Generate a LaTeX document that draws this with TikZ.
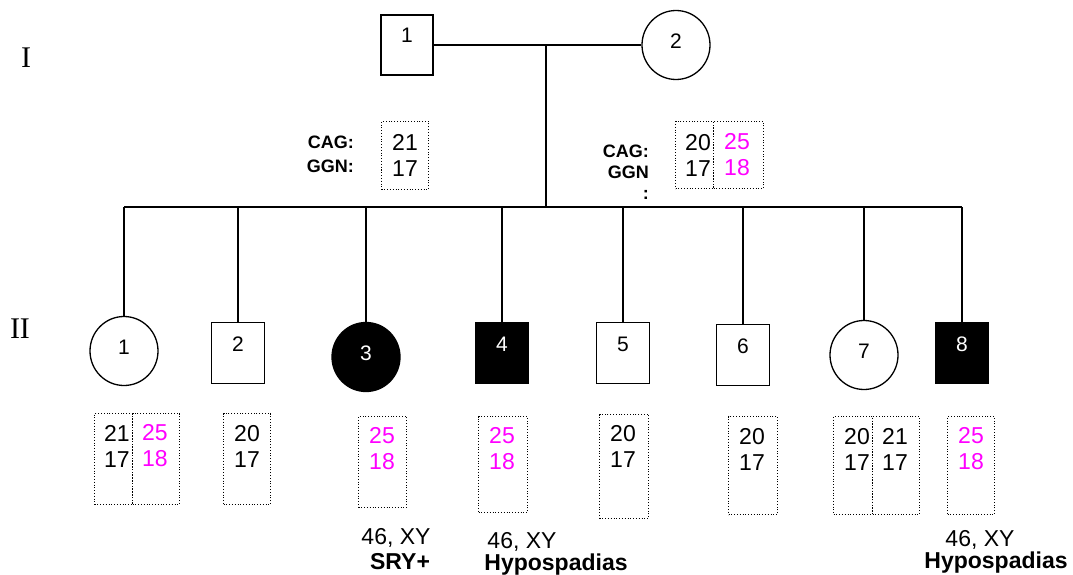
\documentclass[tikz,border=0pt]{standalone}
\usepackage{fontspec}
\setmainfont{Liberation Sans}
\newfontfamily\genfont{Liberation Serif}
\usepackage{xcolor}
\usetikzlibrary{shapes.geometric}
\definecolor{allele}{HTML}{FF00FF}
\newcommand{\rep}[2]{#1\\#2}

\begin{document}
\begin{tikzpicture}[x=1pt,y=-1pt]
  \tikzset{male/.style={draw, line width=1.3pt, rectangle, minimum width=53pt, minimum height=61pt,
             inner sep=0pt, font=\fontsize{21}{24}\selectfont, text height=15pt, text depth=19pt},
           female/.style={draw, line width=1.3pt, ellipse, minimum width=68pt, minimum height=69pt,
             inner sep=0pt, font=\fontsize{21}{24}\selectfont, text height=15pt, text depth=8pt},
           affected/.style={fill=black, text=white},
           repbox/.style={draw, line width=1pt, dash pattern=on 1pt off 1.8pt, inner sep=0pt, anchor=north west},
           reptext/.style={font=\fontsize{23}{26}\selectfont, align=center, inner sep=0pt},
           marker/.style={font=\fontsize{18}{24}\selectfont\bfseries, align=right, inner sep=0pt, anchor=north east},
           note/.style={font=\fontsize{23}{26}\selectfont, inner sep=0pt},
           gen/.style={font=\fontsize{30}{34}\genfont, inner sep=0pt}}
  \useasboundingbox (0,0) rectangle (1073,575);

  \node[gen] (genI) at (26,58) {I};
  \node[gen] (genII) at (20,329) {II};

  \node[male, minimum width=52pt, minimum height=60pt] (f1) at (407,45) {1};
  \node[female] (m2) at (676,45) {2};
  \coordinate (mid) at (546,45);
  \coordinate (sib) at (546,207);
  \coordinate (sibL) at (124,207);
  \coordinate (sibR) at (962,207);

  \node[female] (c1) at (124,351) {1};
  \node[male] (c2) at (238,353) {2};
  \node[female, affected] (c3) at (366,357) {3};
  \node[male, affected] (c4) at (502,353) {4};
  \node[male] (c5) at (623,353) {5};
  \node[male] (c6) at (743,355) {6};
  \node[female] (c7) at (864,355) {7};
  \node[male, affected] (c8) at (962,353) {8};

  \draw[line width=1.3pt] (f1) -- (m2);
  \draw[line width=1.3pt] (mid) -- (sib);
  \draw[line width=1.3pt] (sibL) -- (sibR);
  \draw[line width=1.3pt] (c1.north |- sib) -- (c1.north);
  \draw[line width=1.3pt] (c2.north |- sib) -- (c2.north);
  \draw[line width=1.3pt] (c3.north |- sib) -- (c3.north);
  \draw[line width=1.3pt] (c4.north |- sib) -- (c4.north);
  \draw[line width=1.3pt] (c5.north |- sib) -- (c5.north);
  \draw[line width=1.3pt] (c6.north |- sib) -- (c6.north);
  \draw[line width=1.3pt] (c7.north |- sib) -- (c7.north);
  \draw[line width=1.3pt] (c8.north |- sib) -- (c8.north);

  \node[marker] (f1mark) at (354,136) {CAG:\\GGN:};
  \node[repbox, minimum width=47pt, minimum height=68pt] (f1box) at (381,121) {};
  \node[reptext] (f1rep) at (405,155) {\rep{21}{17}};

  \node[marker, font=\fontsize{18}{21}\selectfont\bfseries] (m2mark) at (649,145) {CAG:\\GGN\\:};
  \node[repbox, minimum width=38pt, minimum height=67pt] (m2boxa) at (675,121) {};
  \node[repbox, minimum width=50pt, minimum height=67pt] (m2boxb) at (713,121) {};
  \node[reptext] (m2repa) at (698,155) {\rep{20}{17}};
  \node[reptext, text=allele] (m2repb) at (737,155) {\rep{25}{18}};

  \node[repbox, minimum width=38pt, minimum height=91pt] (c1boxa) at (94,413) {};
  \node[repbox, minimum width=47pt, minimum height=91pt] (c1boxb) at (132,413) {};
  \node[reptext] (c1repa) at (117,446) {\rep{21}{17}};
  \node[reptext, text=allele] (c1repb) at (155,446) {\rep{25}{18}};

  \node[repbox, minimum width=47pt, minimum height=91pt] (c2box) at (223,413) {};
  \node[reptext] (c2rep) at (247,446) {\rep{20}{17}};

  \node[repbox, minimum width=48pt, minimum height=91pt] (c3box) at (358,416) {};
  \node[reptext, text=allele] (c3rep) at (382,449) {\rep{25}{18}};

  \node[repbox, minimum width=49pt, minimum height=96pt] (c4box) at (478,416) {};
  \node[reptext, text=allele] (c4rep) at (502,449) {\rep{25}{18}};

  \node[repbox, minimum width=49pt, minimum height=104pt] (c5box) at (599,414) {};
  \node[reptext] (c5rep) at (623,446) {\rep{20}{17}};

  \node[repbox, minimum width=49pt, minimum height=98pt] (c6box) at (728,416) {};
  \node[reptext] (c6rep) at (752,449) {\rep{20}{17}};

  \node[repbox, minimum width=39pt, minimum height=98pt] (c7boxa) at (833,416) {};
  \node[repbox, minimum width=47pt, minimum height=98pt] (c7boxb) at (872,416) {};
  \node[reptext] (c7repa) at (857,449) {\rep{20}{17}};
  \node[reptext] (c7repb) at (895,449) {\rep{21}{17}};

  \node[repbox, minimum width=47pt, minimum height=98pt] (c8box) at (947,416) {};
  \node[reptext, text=allele] (c8rep) at (971,449) {\rep{25}{18}};

  \node[note] (c3kar) at (396,538) {46, XY};
  \node[note, font=\fontsize{23}{26}\selectfont\bfseries] (c3dx) at (400,562) {SRY+};
  \node[note] (c4kar) at (522,542) {46, XY};
  \node[note, font=\fontsize{23}{26}\selectfont\bfseries] (c4dx) at (556,565) {Hypospadias};
  \node[note] (c8kar) at (980,540) {46, XY};
  \node[note, font=\fontsize{23}{26}\selectfont\bfseries] (c8dx) at (996,563) {Hypospadias};
\end{tikzpicture}
\end{document}
